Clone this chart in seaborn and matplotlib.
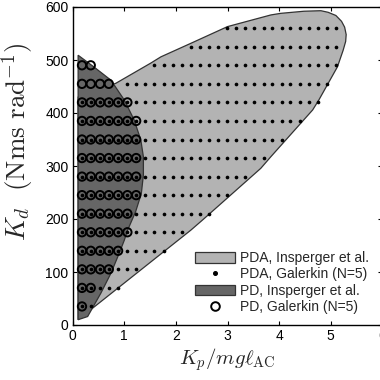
import numpy as np
import pandas as pd
import matplotlib
matplotlib.use("Agg")
import matplotlib.pyplot as plt
import seaborn as sns
from matplotlib.patches import Patch
from matplotlib.lines import Line2D

# ---- data ----
kp_grid = [0.18, 0.35, 0.53, 0.70, 0.88, 1.06, 1.23, 1.41, 1.58, 1.76, 1.94, 2.11,
           2.29, 2.46, 2.64, 2.82, 2.99, 3.17, 3.34, 3.52, 3.70, 3.87, 4.05, 4.22,
           4.40, 4.58, 4.75, 4.93, 5.10]
kd_rows = [35, 70, 105, 140, 175, 210, 245, 280, 315, 350, 385, 420, 455, 490, 525, 560]
# index range (1-based, inclusive) of grid points per row
pda_first = [1, 1, 1, 1, 1, 1, 1, 1, 1, 1, 1, 1, 6, 9, 13, 17]
pda_last = [2, 5, 7, 10, 12, 15, 17, 19, 21, 23, 25, 27, 28, 29, 29, 29]
pd_last = [1, 2, 4, 5, 6, 6, 7, 7, 7, 7, 7, 6, 4, 2, 0, 0]

# boundaries (Insperger et al.)
pda_kp = [0.105, 2.29, 2.515, 3.645, 3.84, 4.65, 4.77, 5.13, 5.24, 5.29, 5.30, 5.27,
          5.21, 5.10, 4.95, 4.81, 4.48, 4.03, 3.84, 3.0, 2.29, 1.71, 1.51, 0.835, 0.105]
pda_kd = [10, 179, 198, 295.6, 317.5, 405.7, 424.5, 487, 518, 535, 548, 562,
          573, 584, 590, 593, 592, 588, 585, 563, 531.5, 506, 494, 456, 430]
pd_kp = [0.105, 0.29, 0.545, 0.74, 0.90, 1.0, 1.06, 1.22, 1.33, 1.37, 1.37, 1.32,
         1.19, 1.0, 0.74, 0.41, 0.105]
pd_kd = [10, 16, 60, 97.5, 135, 160, 178, 214, 248, 283, 317.5, 349,
         387, 424.5, 462, 487, 509]

# ---- build point tables ----
rows_pda, rows_pd = [], []
for kd, a, b, c in zip(kd_rows, pda_first, pda_last, pd_last):
    for i in range(a - 1, b):
        rows_pda.append((kp_grid[i], kd))
    for i in range(0, c):
        rows_pd.append((kp_grid[i], kd))
df_pda = pd.DataFrame(rows_pda, columns=["Kp", "Kd"])
df_pd = pd.DataFrame(rows_pd, columns=["Kp", "Kd"])

sns.set_style("ticks")
plt.rcParams["font.family"] = ["Liberation Sans", "DejaVu Sans"]
plt.rcParams["mathtext.fontset"] = "cm"

fig = plt.figure(figsize=(3.8, 3.8), dpi=100)
ax = fig.add_axes([72.7 / 380, 55 / 380, 309.6 / 380, 318 / 380])

light = "#b3b3b3"
dark = "#666666"
edge = "#333333"
ax.fill(pda_kp, pda_kd, facecolor=light, edgecolor=edge, linewidth=0.9, zorder=1)
ax.fill(pd_kp, pd_kd, facecolor=dark, edgecolor=edge, linewidth=0.9, zorder=2)

sns.scatterplot(data=df_pda, x="Kp", y="Kd", ax=ax, color="black", s=7,
                linewidth=0, zorder=3, legend=False)
sns.scatterplot(data=df_pd, x="Kp", y="Kd", ax=ax, facecolor="none",
                edgecolor="black", s=36, linewidth=1.4, zorder=4, legend=False)

ax.set_xlim(0, 6)
ax.set_ylim(0, 600)
ax.set_xticks([0, 1, 2, 3, 4, 5, 6])
ax.set_yticks([0, 100, 200, 300, 400, 500, 600])
ax.tick_params(direction="in", top=True, right=True, length=3, width=0.8,
               labelsize=10, colors="black", pad=3)
for sp in ax.spines.values():
    sp.set_linewidth(1.0)
    sp.set_color("black")

ax.set_xlabel(r"$K_p/mg\ell_{\mathrm{AC}}$", fontsize=15, labelpad=2)
ax.set_ylabel(r"$K_d\ \ (\mathrm{Nms\ rad}^{-1})$", fontsize=19.5)
ax.yaxis.set_label_coords(-0.12, 0.575)

handles = [
    Patch(facecolor=light, edgecolor=edge, linewidth=0.9),
    Line2D([], [], linestyle="none", marker="o", markersize=2.6,
           markerfacecolor="black", markeredgecolor="black"),
    Patch(facecolor=dark, edgecolor=edge, linewidth=0.9),
    Line2D([], [], linestyle="none", marker="o", markersize=6.2,
           markerfacecolor="none", markeredgecolor="black", markeredgewidth=1.4),
]
labels = ["PDA, Insperger et al.", "PDA, Galerkin (N=5)",
          "PD, Insperger et al.", "PD, Galerkin (N=5)"]
ax.legend(handles, labels, loc="lower left", bbox_to_anchor=(0.395, 0.035),
          frameon=False, fontsize=10, handlelength=2.9, handleheight=0.8,
          handletextpad=0.35, labelspacing=0.16, borderpad=0, borderaxespad=0)

fig.savefig("out.png", dpi=100)
